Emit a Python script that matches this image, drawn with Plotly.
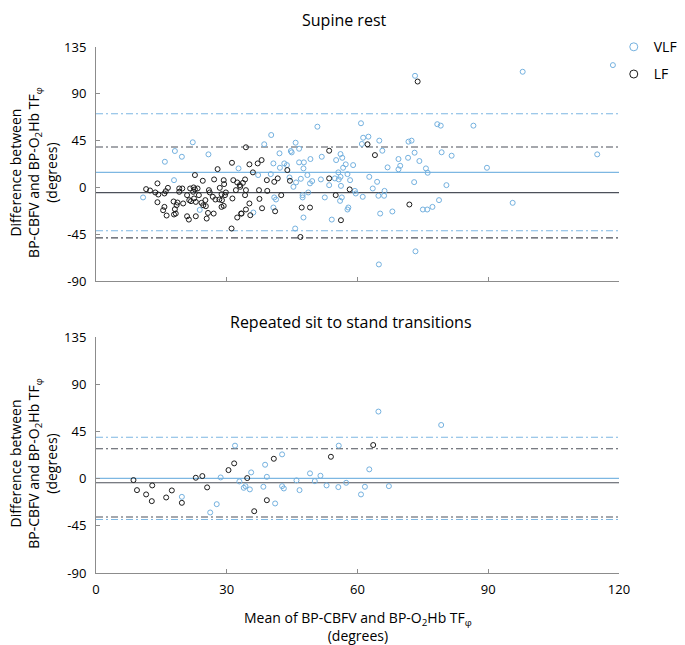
import plotly.graph_objects as go

# ---------------- data (degrees) ----------------
# Supine rest - VLF
sup_vlf_x = [22.2, 18.1, 19.7, 15.8, 25.8, 17.9, 10.8, 23.8, 32.7,
             50.8, 40.2, 38.6, 45.8, 44.7, 44.9, 46.6, 42.1, 40.7, 43.2,
             43.8, 42.2, 46.6, 47.7, 47.6, 49.2, 51.8, 40.1, 37.2, 44.4,
             45.9, 47.0, 45.3, 48.5, 49.6, 49.1, 51.6, 53.5, 55.1, 56.1,
             56.5, 57.3, 56.7, 55.6, 56.1, 54.8, 55.7, 57.7, 56.2, 59.0,
             59.4, 52.5, 56.4, 56.0, 57.9, 57.7, 48.7, 47.4, 47.4, 40.9,
             41.3, 40.7, 36.1, 47.6, 54.1, 45.7,
             60.8, 61.3, 62.5, 61.0, 65.0, 65.7, 62.7, 64.5, 63.5, 59.6,
             61.2, 64.8, 66.2, 66.1, 65.2, 68.0, 66.9, 69.4, 69.8, 69.4,
             71.7, 72.4, 73.1, 71.6, 74.2, 75.7, 76.1, 73.0, 78.3, 79.1,
             79.3, 81.6, 80.4, 78.7, 77.2, 76.0, 75.0, 73.3, 64.9, 86.6,
             58.3,
             73.2, 97.9, 118.6, 89.7, 95.6, 115.0]
sup_vlf_y = [43.4, 35, 29.5, 24.7, 31.8, 7, -9.6, -21.6, 18.3,
             58.4, 50.4, 41.5, 43, 35, 33.7, 37.2, 32.8, 23.1, 23.1,
             21.5, 18.9, 24.1, 24.1, 18.3, 27.3, 29.5, 12.8, 11.9, 9.6,
             4.8, 8.3, 0.6, 11.9, 6.1, 3.9, 7.7, 2.2, 26.3, 32.1,
             28.5, 22.2, 18.9, 14.5, 10.2, 8.7, 7.7, 12.8, 1.5, 21.5,
             -3.3, -9.6, -9.6, -12.9, -19.3, -21.2, -4.8, -7.4, -9.6, -9.6,
             -11.6, -19.3, -24.1, -28.9, -30.9, -39.5,
             61.7, 47.8, 48.8, 41.8, 45, 35.3, 10.2, 5.4, -1, -5.8,
             -9, -8, -3.3, -8, -25.1, -23.1, 19.3, 17.4, 20.8, 27.3,
             44, 45, 33.4, 28.5, 25.4, 18.3, 14.1, 5.1, 60.8, 59.4,
             33.8, 30.5, 2.2, -12.2, -18.7, -21.2, -21.2, -61.4, -74, 59.4,
             7,
             107.3, 111.2, 117.6, 18.9, -14.8, 31.8]

# Supine rest - LF
sup_lf_x = [11.5, 12.4, 13.6, 14.3, 14.1, 14.1, 15.7, 16.0, 16.5, 15.7,
            15.4, 16.2, 17.8, 18.5, 18.7, 18.1, 18.3, 17.9, 19.1, 19.1,
            19.8, 20.0, 20.9, 20.9, 21.3, 21.4, 21.8, 21.6, 22.4, 22.7,
            22.7, 22.3, 22.5, 22.9, 22.9, 23.3, 23.6, 24.5, 24.2, 24.6,
            25.1, 25.2, 25.7, 25.4, 25.9, 26.1, 26.8, 27.1, 27.4, 27.0,
            27.9, 28.4, 28.3, 28.8, 28.9, 28.8, 29.3, 29.4, 29.3, 29.6,
            29.8, 31.2, 31.3, 31.1, 31.5, 32.1, 32.4, 33.3, 32.4, 33.0,
            33.7,
            34.4, 35.2, 37.1, 38.0, 36.0, 34.2, 33.1, 34.4, 34.2, 37.4,
            39.3, 39.2, 40.9, 41.7, 43.9, 44.5, 42.5, 37.5, 35.2, 34.4,
            33.4, 35.4, 38.1, 41.1, 47.2, 49.1, 46.9, 53.5, 53.5, 55.0,
            56.2, 58.2,
            62.3, 64.0, 71.9, 73.8, 96.6]
sup_lf_y = [-1.6, -2.9, -4.8, -6.8, 3.9, -14.2, -5.8, -3.6, -0.4, -18.7,
            -21.9, -27, -13.5, -17, -14.5, -20.9, -25.1, -26, -1, -4.2,
            -1, -15.4, -7.4, -27.7, -30.9, -12.2, -13.2, -1, 0, 11.9,
            -1.9, -4.2, -10.6, -13.9, -27.7, -1, -7.4, 6.4, -14.8, -17.1,
            -12.2, -18, -24.5, -29.9, -2.6, -4.8, -9, 7.7, -11.6, -25.1,
            17.6, -0.4, -11.6, -6.5, -12.2, -18.7, -17.7, 3.2, 7, -7.4,
            -4.8, 23.7, -10.6, -39.5, 7, -2.6, -28.9, -25.1, 4.8, 2.2,
            4.4,
            38.6, 22.2, 23.1, 26.3, 14.5, 7.7, 0.6, -2.6, -7.4, -2.6,
            -3.3, 7, 5.4, 8.7, 16.7, 6.4, -7.4, -11, -15.4, -21.2,
            -25.1, -26.7, -20, -22.9, -19.3, -19.3, -47.6, 35.3, 8.7, -7.4,
            -31.5, -1.9,
            41.5, 31.1, -16.4, 101.8, 136]

# Repeated sit to stand - VLF
sts_vlf_x = [19.7, 26.2, 27.7, 28.6, 31.9, 32.9, 35.6, 33.9, 34.3, 35.3,
             38.8, 39.2, 38.4, 41.1, 42.7, 42.7, 43.1, 46.0, 46.7, 49.1,
             50.2, 51.5, 52.9, 55.6, 55.7, 64.8, 62.7, 61.7, 60.8, 57.4,
             67.2, 79.2]
sts_vlf_y = [-17.4, -32.3, -24.4, 1.1, 31.4, -2.7, 5.9, -8.8, -7.2, -10.3,
             13.2, 1.7, -7.8, -23.7, 23.1, -7.2, -9.4, -1.7, -11.0, 5.0,
             -2.4, 2.7, -6.5, -8.1, 31.4, 63.9, 8.8, -7.8, -15.1, -4.0,
             -7.2, 51.1]

# Repeated sit to stand - LF
sts_lf_x = [8.6, 9.4, 11.5, 12.9, 12.8, 16.1, 17.4, 19.7, 22.9, 24.4,
            25.5, 30.4, 31.7, 34.7, 36.3, 39.2, 40.8, 53.9, 63.6]
sts_lf_y = [-1.4, -11.0, -15.1, -6.5, -21.5, -18.0, -11.3, -23.1, 0.8, 2.4,
            -8.4, 8.1, 14.5, 0.5, -31.1, -20.6, 18.9, 20.8, 32.0]

# Bias and limits of agreement: [mean, upper, lower]
sup_vlf_lines = [14.5, 70.8, -41.6]
sup_lf_lines = [-5.0, 38.9, -48.5]
sts_vlf_lines = [0.2, 39.4, -39.0]
sts_lf_lines = [-4.0, 28.5, -36.6]

x_span = [0, 120]
y_ticks = [-90, -45, 0, 45, 90, 135]
y_tick_text = ["-90", "-45", "0", "45", "90", "135"]
x_ticks = [0, 30, 60, 90, 120]
x_tick_text = ["0", "30", "60", "90", "120"]

# ---------------- styling ----------------
FONT = "Open Sans"
BLUE = "#74b1df"
BLACK = "#1c1c1c"
BLUE_LINE = "#7db7e2"
DARK_LINE = "#4c505a"
AXIS = "#8c8c8c"
DASHDOT = "7px,3px,2px,3px"

fig = go.Figure()


def add_lines(vals, color, xa, ya):
    mean, up, lo = vals
    fig.add_trace(go.Scatter(x=x_span, y=[mean, mean], mode="lines",
                             line=dict(color=color, width=1.1),
                             xaxis=xa, yaxis=ya, showlegend=False, hoverinfo="skip"))
    for v in (up, lo):
        fig.add_trace(go.Scatter(x=x_span, y=[v, v], mode="lines",
                                 line=dict(color=color, width=1.1, dash=DASHDOT),
                                 xaxis=xa, yaxis=ya, showlegend=False, hoverinfo="skip"))


add_lines(sup_vlf_lines, BLUE_LINE, "x", "y")
add_lines(sup_lf_lines, DARK_LINE, "x", "y")
add_lines(sts_vlf_lines, BLUE_LINE, "x2", "y2")
add_lines(sts_lf_lines, DARK_LINE, "x2", "y2")


def add_pts(xs, ys, color, xa, ya):
    fig.add_trace(go.Scatter(x=xs, y=ys, mode="markers",
                             marker=dict(symbol="circle-open", size=5, color=color,
                                         line=dict(width=1, color=color)),
                             xaxis=xa, yaxis=ya, showlegend=False, cliponaxis=False))


add_pts(sup_vlf_x, sup_vlf_y, BLUE, "x", "y")
add_pts(sup_lf_x, sup_lf_y, BLACK, "x", "y")
add_pts(sts_vlf_x, sts_vlf_y, BLUE, "x2", "y2")
add_pts(sts_lf_x, sts_lf_y, BLACK, "x2", "y2")

# legend entries
for name, col, grp in (("VLF", BLUE, "a"), ("LF", BLACK, "b")):
    fig.add_trace(go.Scatter(x=[None], y=[None], mode="markers", name=name,
                             legendgroup=grp,
                             marker=dict(symbol="circle-open", size=8, color=col,
                                         line=dict(width=1, color=col)),
                             xaxis="x", yaxis="y"))

axis_common = dict(showline=True, linecolor=AXIS, linewidth=1, ticks="inside",
                   ticklen=4, tickcolor=AXIS, tickwidth=1, showgrid=False,
                   zeroline=False, mirror=False, automargin=False,
                   tickfont=dict(family=FONT, size=13, color="black"))

# page adds an 8px body margin, so the figure is 8px smaller and margins shifted
fig.update_layout(
    width=677, height=637,
    margin=dict(l=88, r=66, t=39, b=72, autoexpand=False),
    paper_bgcolor="white", plot_bgcolor="white",
    font=dict(family=FONT, color="black"),
    xaxis=dict(domain=[0, 1], anchor="y", range=[0, 120], tickvals=x_ticks,
               showticklabels=False, **axis_common),
    yaxis=dict(domain=[0.555, 1], anchor="x", range=[-90, 135], tickvals=y_ticks,
               ticktext=y_tick_text, ticklabelstandoff=6, **axis_common),
    xaxis2=dict(domain=[0, 1], anchor="y2", range=[0, 120], tickvals=x_ticks,
                ticktext=x_tick_text, ticklabelstandoff=4, **axis_common),
    yaxis2=dict(domain=[0, 0.4487], anchor="x2", range=[-90, 135], tickvals=y_ticks,
                ticktext=y_tick_text, ticklabelstandoff=6, **axis_common),
    legend=dict(x=0.99, y=1.03, xanchor="left", yanchor="top",
                bgcolor="rgba(0,0,0,0)", font=dict(family=FONT, size=14),
                tracegroupgap=6, itemwidth=30, borderwidth=0),
    showlegend=True,
)

ytitle = "Difference between<br>BP-CBFV and BP-O<sub>2</sub>Hb TF<sub>φ</sub><br>(degrees)"
ann = [
    dict(text="Supine rest", x=0.476, y=1.052, xref="paper", yref="paper",
         showarrow=False, xanchor="center", yanchor="middle",
         font=dict(family=FONT, size=16)),
    dict(text="Repeated sit to stand transitions", x=0.488, y=0.477,
         xref="paper", yref="paper", showarrow=False, xanchor="center",
         yanchor="middle", font=dict(family=FONT, size=16)),
    dict(text=ytitle, textangle=-90, x=-0.121, y=0.762, xref="paper", yref="paper",
         showarrow=False, xanchor="center", yanchor="middle", borderpad=0,
         font=dict(family=FONT, size=14)),
    dict(text=ytitle, textangle=-90, x=-0.121, y=0.209, xref="paper", yref="paper",
         showarrow=False, xanchor="center", yanchor="middle", borderpad=0,
         font=dict(family=FONT, size=14)),
    dict(text="Mean of BP-CBFV and BP-O<sub>2</sub>Hb TF<sub>φ</sub><br>(degrees)",
         x=0.5, y=-0.101, xref="paper", yref="paper", showarrow=False,
         xanchor="center", yanchor="middle", font=dict(family=FONT, size=14)),
]
fig.update_layout(annotations=ann)

fig.write_html("out.html")
